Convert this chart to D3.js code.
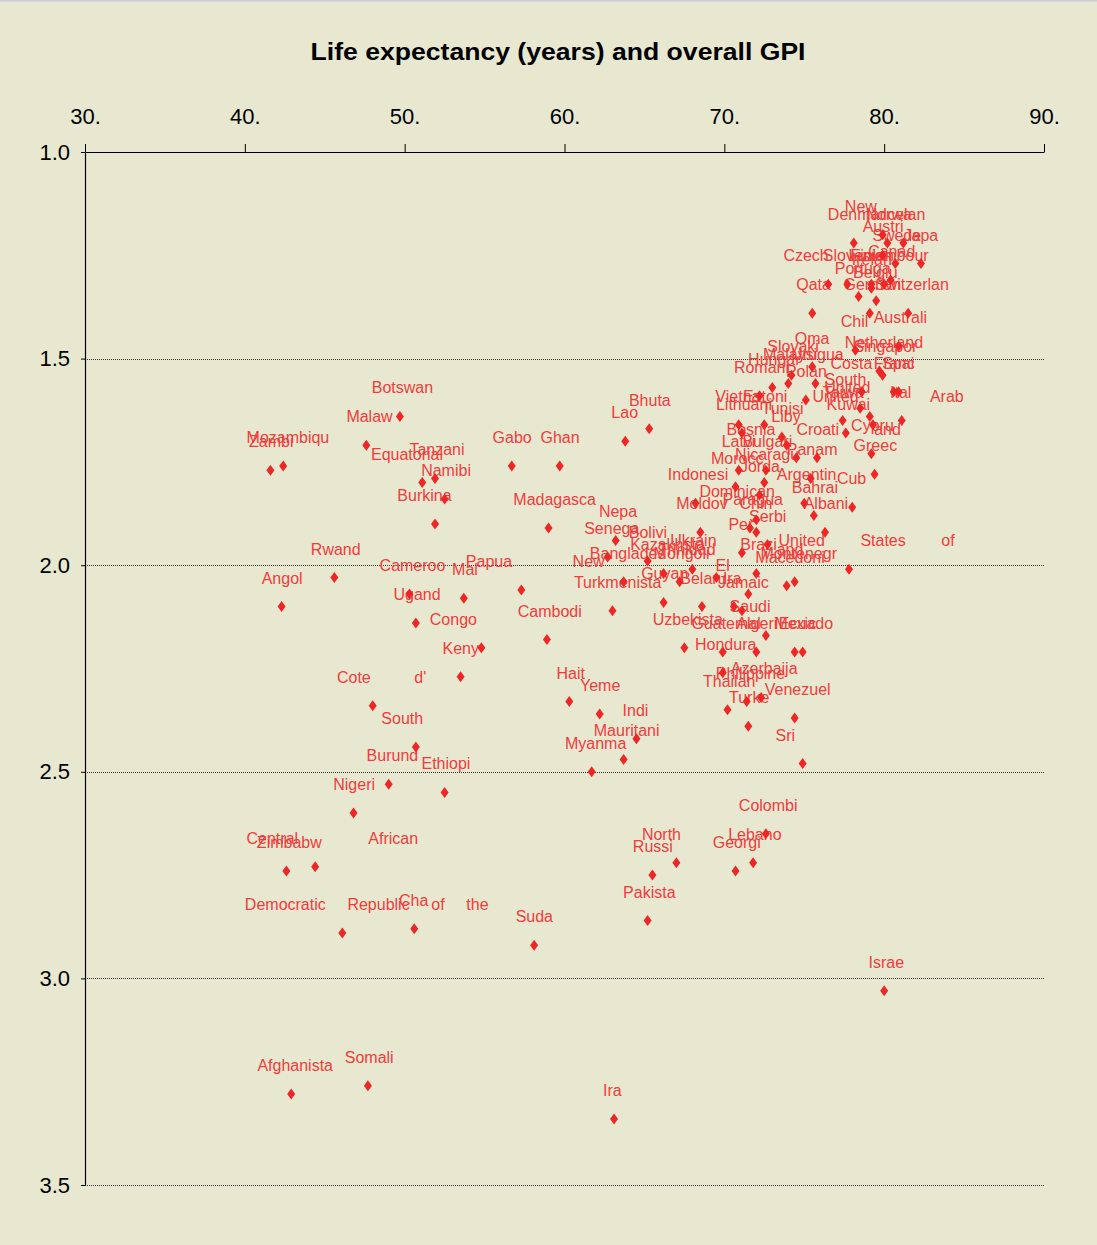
<!DOCTYPE html>
<html><head><meta charset="utf-8">
<script src="https://cdn.jsdelivr.net/npm/d3@7"></script>
<style>
html,body{margin:0;padding:0;background:#e8e8d1;}
svg{display:block;}
</style></head><body>
<svg id="chart" width="1097" height="1245"></svg>
<script>
const countries = ["Denmark","New Zealand","Norway","Iceland","Austria","Sweden","Japan","Canada","Finland","Slovenia","Czech Republic","Portugal","Ireland","Luxembourg","Belgium","Germany","Switzerland","Qatar","Chile","Australia","Oman","Slovakia","Malaysia","Uruguay","Hungary","Romania","Poland","Netherlands","Singapore","Costa Rica","France","Spain","South Korea","Taiwan","United Arab Emirates","Italy","Kuwait","Cyprus","Greece","Croatia","Bosnia and Herzegovina","Vietnam","Estonia","Lithuania","Tunisia","Libya","Latvia","Bulgaria","Nicaragua","Panama","Morocco","Jordan","Indonesia","Argentina","Cuba","Bahrain","Dominican Republic","Moldova","Paraguay","China","Albania","Serbia","Peru","Brazil","United States of America","Macedonia","Montenegro","Ukraine","Kazakhstan","Mongolia","Bangladesh","Turkmenistan","Bolivia","Senegal","Nepal","Guyana","El Salvador","Belarus","Jamaica","Saudi Arabia","Uzbekistan","Guatemala","Algeria","Mexico","Ecuador","Honduras","Philippines","Azerbaijan","Thailand","Turkey","Venezuela","Sri Lanka","Colombia","Lebanon","Georgia","North Korea","Russia","Pakistan","Israel","Iraq","Sudan","Somalia","Afghanistan","Democratic Republic of the Congo","Chad","Zimbabwe","Central African Republic","Nigeria","Burundi","Ethiopia","South Africa","Cote d'Ivoire","Kenya","Congo Brazzaville","Uganda","Mali","Cameroon","Angola","Rwanda","Zambia","Mozambique","Botswana","Malawi","Equatorial Guinea","Tanzania","Namibia","Burkina Faso","Gabon","Ghana","Madagascar","Papua New Guinea","Cambodia","Haiti","Yemen","Myanmar","Mauritania","India","Laos","Bhutan","Iran","Trinidad and Tobago","United Kingdom"];

const labels = ["Denmar","New","Norwa","Icelan","Austri","Swede","Japa","Canad","Finlan","Sloveni","Czech","Portuga","Irelan","Luxembour","Belgiu","German","Switzerlan","Qata","Chil","Australi","Oma","Slovaki","Malaysi","Urugua","Hungar","Romani","Polan","Netherland","Singapor","Costa","Franc","Spai","South","Taiwa","United Arab","Ital","Kuwai","Cypru","Greec","Croati","Bosnia and","Vietna","Estoni","Lithuani","Tunisi","Liby","Latvi","Bulgari","Nicaragu","Panam","Morocc","Jorda","Indonesi","Argentin","Cub","Bahrai","Dominican","Moldov","Paragua","Chin","Albani","Serbi","Per","Brazi","United States of","Macedoni","Montenegr","Ukrain","Kazakhsta","Mongoli","Banglades","Turkmenista","Bolivi","Senega","Nepa","Guyan","El","Belaru","Jamaic","Saudi","Uzbekista","Guatemal","Algeri","Mexic","Ecuado","Hondura","Philippine","Azerbaija","Thailan","Turke","Venezuel","Sri","Colombi","Lebano","Georgi","North","Russi","Pakista","Israe","Ira","Suda","Somali","Afghanista","Democratic Republic of the","Cha","Zimbabw","Central African","Nigeri","Burund","Ethiopi","South","Cote d'","Keny","Congo","Ugand","Mal","Cameroo","Angol","Rwand","Zambi","Mozambiqu","Botswan","Malaw","Equatorial","Tanzani","Namibi","Burkina","Gabo","Ghan","Madagasca","Papua New","Cambodi","Hait","Yeme","Myanma","Mauritani","Indi","Lao","Bhuta","Ira","Trinidad and","United"];

const lifeExpectancy = [78.1,79.9,80.2,81.2,79.9,80.7,82.3,80.4,79.2,77.7,76.5,78.4,79.2,80.0,79.5,79.1,81.5,75.5,78.2,80.9,75.5,74.2,74.0,75.7,73.0,72.2,75.1,79.7,79.9,78.6,80.6,80.9,78.5,77.4,79.3,81.1,77.6,79.2,79.4,75.8,74.5,70.9,72.5,71.1,73.6,73.9,70.9,72.6,72.5,75.4,70.7,72.2,68.2,75.0,78.0,75.6,72.0,68.5,71.6,72.0,76.3,72.7,71.1,72.0,77.8,73.9,74.4,68.0,66.2,67.2,63.7,63.0,65.2,62.7,63.2,66.2,71.5,68.6,71.1,72.6,67.5,69.9,72.0,74.4,74.9,69.9,71.4,72.3,70.2,71.5,74.4,74.9,72.6,71.8,70.7,67.0,65.5,65.2,80.0,63.1,58.1,47.7,42.9,46.1,50.6,42.6,44.4,46.8,49.0,52.5,50.7,48.0,53.5,54.8,50.7,53.7,50.3,42.3,45.6,41.6,42.4,49.7,47.6,51.1,51.9,52.5,51.9,56.7,59.7,59.0,57.3,58.9,60.3,62.2,61.7,63.7,64.5,63.8,65.3,70.6,69.5,79.1];

const gpiScore = [1.22,1.20,1.22,1.22,1.25,1.27,1.27,1.31,1.32,1.32,1.32,1.35,1.33,1.32,1.36,1.39,1.39,1.39,1.48,1.47,1.52,1.54,1.56,1.56,1.57,1.59,1.60,1.53,1.54,1.58,1.58,1.58,1.62,1.65,1.66,1.65,1.68,1.73,1.78,1.74,1.74,1.66,1.66,1.68,1.69,1.71,1.77,1.77,1.80,1.79,1.81,1.83,1.85,1.85,1.86,1.88,1.89,1.92,1.91,1.92,1.92,1.95,1.97,2.02,2.01,2.05,2.04,2.01,2.02,2.04,2.04,2.11,1.99,1.98,1.94,2.09,2.07,2.10,2.11,2.17,2.20,2.21,2.21,2.21,2.21,2.26,2.33,2.32,2.35,2.39,2.37,2.48,2.65,2.72,2.74,2.72,2.75,2.86,3.03,3.34,2.92,3.26,3.28,2.89,2.88,2.74,2.73,2.60,2.53,2.55,2.44,2.34,2.27,2.20,2.14,2.08,2.07,2.10,2.03,1.77,1.76,1.64,1.71,1.80,1.79,1.84,1.90,1.76,1.76,1.91,2.06,2.18,2.33,2.36,2.50,2.47,2.42,1.70,1.67,2.10,2.03,1.64];

const xTicks = [30, 40, 50, 60, 70, 80, 90];
const yTicks = [1.0, 1.5, 2.0, 2.5, 3.0, 3.5];
const gridValues = [1.5, 2.0, 2.5, 3.0, 3.5];
const titleText = "Life expectancy (years) and overall GPI";

const points = countries.map((c, i) => ({name: c, label: labels[i], life: lifeExpectancy[i], gpi: gpiScore[i]}));

const FONT = "'Liberation Sans', Arial, sans-serif";
const svg = d3.select("#chart");
const W = 1097, H = 1245;
const margin = {left: 85, right: 53, top: 152, bottom: 60};
const x = d3.scaleLinear().domain([30, 90]).range([margin.left, W - margin.right]);
const y = d3.scaleLinear().domain([1.0, 3.5]).range([margin.top, H - margin.bottom]);

svg.append("rect").attr("width", W).attr("height", H).attr("fill", "#e8e8d1");
svg.append("line").attr("x1", 0).attr("x2", W).attr("y1", 0.5).attr("y2", 0.5).attr("stroke", "#c9c9dc").attr("stroke-width", 2);

// title
svg.append("text")
  .attr("x", 558).attr("y", 60)
  .attr("text-anchor", "middle")
  .attr("font-family", FONT)
  .attr("font-weight", "bold")
  .attr("font-size", 24)
  .attr("textLength", 495)
  .attr("lengthAdjust", "spacingAndGlyphs")
  .attr("fill", "#000")
  .text(titleText);

// gridlines
svg.append("g").selectAll("line").data(gridValues).join("line")
  .attr("x1", x(30)).attr("x2", x(90))
  .attr("y1", d => Math.round(y(d)) + 0.5).attr("y2", d => Math.round(y(d)) + 0.5)
  .attr("stroke", "#333").attr("stroke-width", 1).attr("stroke-dasharray", "1,1");

// top axis
const topAxis = d3.axisTop(x).tickValues(xTicks).tickFormat(d => d + ".").tickSize(8).tickSizeOuter(0).tickPadding(20);
const gTop = svg.append("g").attr("transform", `translate(0,${y(1.0)})`).call(topAxis);
gTop.select(".domain").attr("stroke", "#000").attr("stroke-width", 1.2);
gTop.selectAll(".tick line").attr("stroke", "#000");
gTop.selectAll(".tick text").attr("font-family", FONT).attr("font-size", 22).attr("fill", "#000");

// left axis
const leftAxis = d3.axisLeft(y).tickValues(yTicks).tickFormat(d3.format(".1f")).tickSize(4).tickSizeOuter(0).tickPadding(11);
const gLeft = svg.append("g").attr("transform", `translate(${x(30)},0)`).call(leftAxis);
gLeft.select(".domain").attr("stroke", "#000").attr("stroke-width", 1.2);
gLeft.selectAll(".tick line").attr("stroke", "#000");
gLeft.selectAll(".tick text").attr("font-family", FONT).attr("font-size", 22).attr("fill", "#000");

// text measuring helper
const LABEL_SIZE = 16;
const measurer = svg.append("text").attr("font-family", FONT).attr("font-size", LABEL_SIZE).attr("visibility", "hidden");
function textWidth(s) { measurer.text(s); return measurer.node().getComputedTextLength(); }

// labels: box as wide as the full name, starting 0.4 of its width left of the point;
// the visible words are spread across that box
const labelG = svg.append("g")
  .attr("font-family", FONT).attr("font-size", LABEL_SIZE).attr("fill", "#f03c3c");
points.forEach(d => {
  const fullW = textWidth(d.name);
  const px = x(d.life), py = y(d.gpi) - 23;
  const x0 = px - 0.4 * fullW;
  const words = d.label.split(" ");
  const t = labelG.append("text").attr("y", py);
  if (words.length === 1) {
    t.append("tspan").attr("x", x0).text(d.label);
  } else {
    const ws = words.map(textWidth);
    const gap = (fullW - d3.sum(ws)) / (words.length - 1);
    let cx = x0;
    words.forEach((w, k) => {
      t.append("tspan").attr("x", cx).text(w);
      cx += ws[k] + gap;
    });
  }
});
measurer.remove();

// diamonds
svg.append("g").selectAll("path").data(points).join("path")
  .attr("d", "M0,-5.5L4,0L0,5.5L-4,0Z")
  .attr("transform", d => `translate(${x(d.life)},${y(d.gpi)})`)
  .attr("fill", "#ee2626");
</script>
</body></html>
